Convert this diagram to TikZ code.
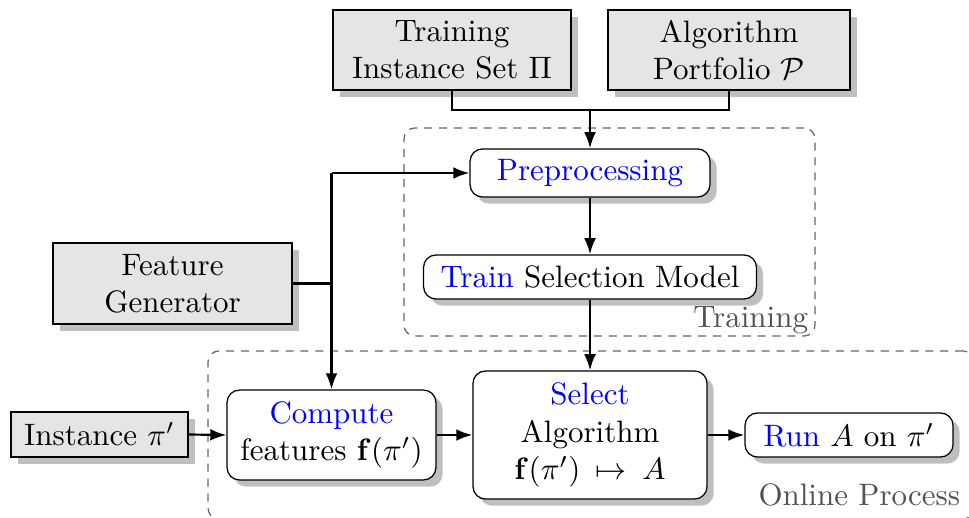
\documentclass[tikz,border=0pt]{standalone}
\usetikzlibrary{shadows,arrows.meta,calc}
\begin{document}
\begin{tikzpicture}[x=0.3226pt, y=-0.3226pt,
  inputbox/.style={draw, fill=black!10, drop shadow, align=center, inner sep=2pt},
  stepbox/.style={draw, fill=white, rounded corners=4pt, drop shadow, align=center, inner sep=2pt},
  region/.style={draw=black!60, dash pattern=on 2.6pt off 2.2pt, rounded corners=3.5pt, inner sep=0pt},
  regionlabel/.style={text=black!68, inner sep=0pt, anchor=base east},
  flow/.style={line width=0.7pt, -{Latex[length=5.2pt,width=3.8pt]}},
  link/.style={line width=0.7pt}]
\useasboundingbox (0,0) rectangle (969,518);

% dashed groups
\node[region, minimum width=132.6pt, minimum height=67.1pt] (trainreg) at (609.5,232) {};
\node[region, minimum width=247.1pt, minimum height=54.2pt] (onlinereg) at (591,435) {};
\node[regionlabel] at ($(trainreg.south east)+(-7,-9)$) {Training};
\node[regionlabel] at ($(onlinereg.south east)+(-14,-14)$) {Online Process};

% inputs
\node[inputbox, minimum width=76.8pt, minimum height=25.8pt] (trainset) at (452,50) {Training\\Instance Set $\Pi$};
\node[inputbox, minimum width=78.1pt, minimum height=25.8pt] (portfolio) at (729,50) {Algorithm\\Portfolio $\mathcal{P}$};
\node[inputbox, minimum width=77.1pt, minimum height=26.1pt] (featgen) at (172.5,283.5) {Feature\\Generator};
\node[inputbox, minimum width=57.1pt, minimum height=14.5pt] (inst) at (99.5,434.5) {Instance $\pi'$};

% processing steps
\node[stepbox, minimum width=77.4pt, minimum height=15.5pt] (pre) at (590,173) {\textcolor{blue}{Preprocessing}};
\node[stepbox, minimum width=107.4pt, minimum height=14.2pt] (trainmodel) at (590,277) {\textcolor{blue}{Train} Selection Model};
\node[stepbox, minimum width=67.4pt, minimum height=29pt] (comp) at (331.5,435) {\textcolor{blue}{Compute}\\features $\mathbf{f}(\pi')$};
\node[stepbox, minimum width=75.5pt, minimum height=41.3pt] (sel) at (590,435) {\textcolor{blue}{Select}\\Algorithm\\$\mathbf{f}(\pi')$\, $\mapsto$\, $A$};
\node[stepbox, minimum width=67.1pt, minimum height=14.2pt] (run) at (849,435) {\textcolor{blue}{Run} $A$ on $\pi'$};

% training inputs merge into preprocessing
\coordinate (merge) at (590,110);
\draw[link] (trainset.south) |- (merge) -| (portfolio.south);
\draw[flow] (merge) -- (pre.north);
\draw[flow] (pre.south) -- (trainmodel.north);
\draw[flow] (trainmodel.south) -- (sel.north);

% feature generator feeds both phases
\coordinate (fsplit) at (comp.north |- pre.west);
\draw[link] (featgen.east) -- (featgen.east -| comp.north);
\draw[flow] (fsplit) -- (comp.north);
\draw[flow] (fsplit) -- (pre.west);

% online chain
\draw[flow] (inst.east) -- (comp.west);
\draw[flow] (comp.east) -- (sel.west);
\draw[flow] (sel.east) -- (run.west);
\end{tikzpicture}
\end{document}
